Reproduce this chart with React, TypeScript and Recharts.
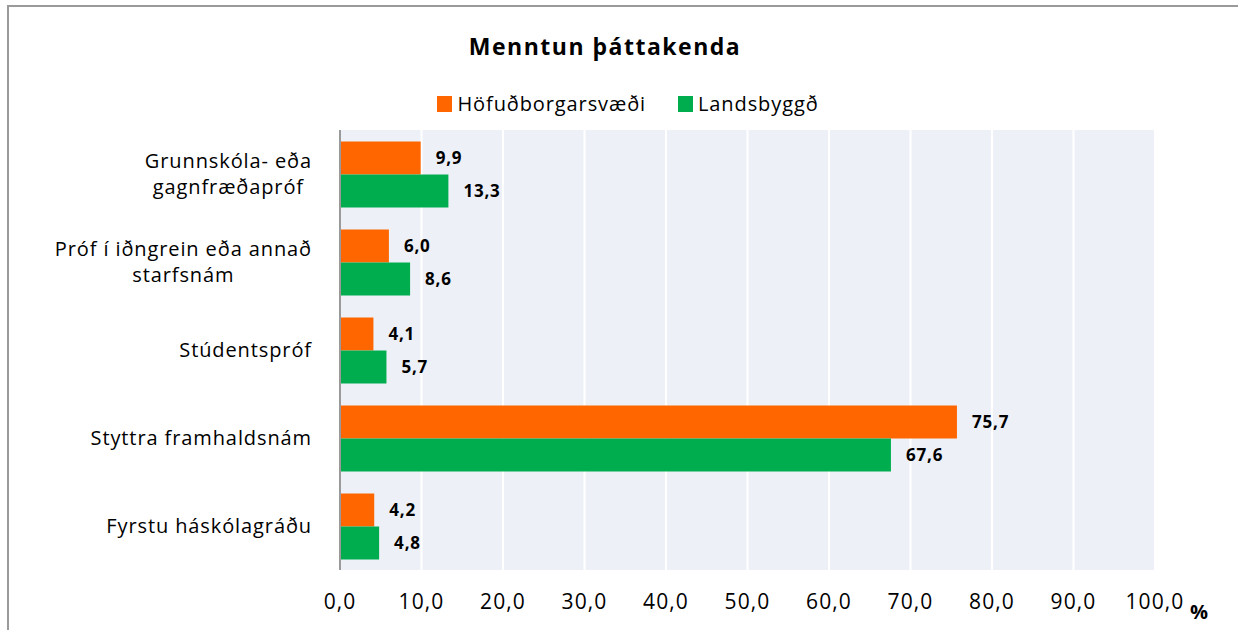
import { BarChart, Bar, XAxis, YAxis, CartesianGrid, LabelList } from 'recharts';

const categories = [
  'Grunnskóla- eða\ngagnfræðapróf',
  'Próf í iðngrein eða annað\nstarfsnám',
  'Stúdentspróf',
  'Styttra framhaldsnám',
  'Fyrstu háskólagráðu',
];
const hofudborg = [9.9, 6.0, 4.1, 75.7, 4.2];
const landsbyggd = [13.3, 8.6, 5.7, 67.6, 4.8];
const xTicks = [0, 10, 20, 30, 40, 50, 60, 70, 80, 90, 100];
const seriesNames = ['Höfuðborgarsvæði', 'Landsbyggð'];
const seriesColors = ['#ff6600', '#00ad4e'];
const title = 'Menntun þáttakenda';

const FONT = '"Open Sans", Lato, sans-serif';
const LABEL_SIZE = 20;
const LS = 0.9; // letter spacing, the original font renders loose

const data = categories.map((c, i) => ({ name: c, hofudborg: hofudborg[i], landsbyggd: landsbyggd[i] }));

const fmt = (v: any) => Number(v).toFixed(1).replace('.', ',');

let ctx: CanvasRenderingContext2D | null = null;
function textWidth(s: string) {
  if (!ctx) ctx = document.createElement('canvas').getContext('2d');
  if (!ctx) return s.length * 10;
  ctx.font = `${LABEL_SIZE}px ${FONT}`;
  return ctx.measureText(s).width + s.length * LS;
}

// multi-line category label: block right-aligned, lines centred within it
function CategoryTick(props: any) {
  const { x, y, payload } = props;
  const lines: string[] = String(payload.value).split('\n');
  const w = Math.max(...lines.map(textWidth));
  const right = x - 20;
  const cx = right - w / 2;
  const lh = 26;
  const y0 = y - ((lines.length - 1) * lh) / 2;
  return (
    <text fontFamily={FONT} fontSize={LABEL_SIZE} fill="#000" textAnchor="middle" style={{ letterSpacing: LS }}>
      {lines.map((l, i) => (
        <tspan key={i} x={cx} y={y0 + i * lh} dy="0.35em">{l}</tspan>
      ))}
    </text>
  );
}

export default function App() {
  const labelStyle = { fontFamily: FONT, fontSize: 17, fontWeight: 'bold', fill: '#000', letterSpacing: 0.8 };
  return (
    <div style={{ position: 'absolute', left: 0, top: 0, width: 1238, height: 630, background: '#fff', fontFamily: FONT, overflow: 'hidden' }}>
      <div style={{ position: 'absolute', left: 7, top: 5, width: 1300, height: 700, borderLeft: '2px solid #9a9a9a', borderTop: '2px solid #9a9a9a' }} />
      <div style={{ position: 'absolute', left: 0, top: 30, width: 1210, textAlign: 'center', fontSize: 23, fontWeight: 'bold', color: '#000', letterSpacing: 1.5 }}>{title}</div>
      <div style={{ position: 'absolute', left: 0, top: 90, width: 1256, display: 'flex', justifyContent: 'center', fontSize: LABEL_SIZE, color: '#000', letterSpacing: LS }}>
        {seriesNames.map((n, i) => (
          <div key={n} style={{ display: 'flex', alignItems: 'center', marginRight: i === 0 ? 32 : 0 }}>
            <span style={{ display: 'inline-block', width: 15, height: 16, background: seriesColors[i], marginRight: 5 }} />
            <span>{n}</span>
          </div>
        ))}
      </div>
      <div style={{ position: 'absolute', left: 0, top: 0 }}>
        <BarChart
          width={1238}
          height={630}
          data={data}
          layout="vertical"
          margin={{ top: 130, right: 83, bottom: 20, left: 0 }}
          barCategoryGap="13%"
          barGap={0}
        >
          <CartesianGrid horizontal={false} vertical stroke="#ffffff" strokeWidth={2} fill="#edf0f6" />
          <XAxis
            type="number"
            domain={[0, 100]}
            ticks={xTicks}
            tickFormatter={fmt}
            axisLine={false}
            tickLine={false}
            height={40}
            tickMargin={18}
            tick={{ fontFamily: FONT, fontSize: 21, fill: '#000', style: { letterSpacing: 1.1 } }}
            interval={0}
          />
          <YAxis
            type="category"
            dataKey="name"
            width={340}
            axisLine={{ stroke: '#9a9a9a', strokeWidth: 2 }}
            tickLine={false}
            tick={<CategoryTick />}
            interval={0}
          />
          <Bar dataKey="hofudborg" name={seriesNames[0]} fill={seriesColors[0]} isAnimationActive={false}>
            <LabelList dataKey="hofudborg" position="right" offset={15} formatter={fmt} style={labelStyle} />
          </Bar>
          <Bar dataKey="landsbyggd" name={seriesNames[1]} fill={seriesColors[1]} isAnimationActive={false}>
            <LabelList dataKey="landsbyggd" position="right" offset={15} formatter={fmt} style={labelStyle} />
          </Bar>
        </BarChart>
      </div>
      <div style={{ position: 'absolute', left: 1190, top: 598, fontSize: 20, fontWeight: 'bold', color: '#000' }}>%</div>
    </div>
  );
}
